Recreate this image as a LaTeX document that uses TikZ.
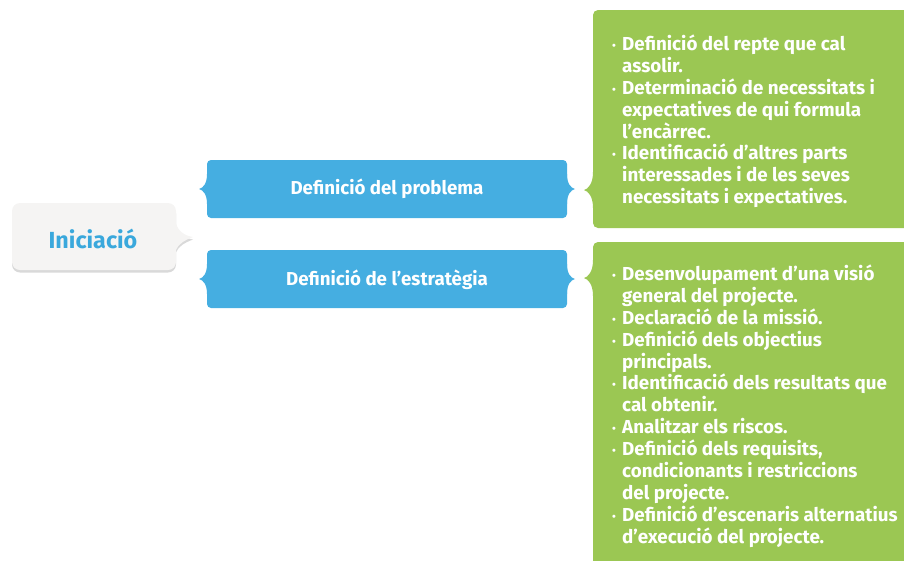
\documentclass[tikz,border=0pt]{standalone}
\usepackage{fontspec}
\setmainfont{Fira Sans}
\usetikzlibrary{shadows}
\definecolor{bblue}{HTML}{45AEE1}
\definecolor{ggreen}{HTML}{9BC753}
\definecolor{gfill}{HTML}{F5F4F3}
\definecolor{tblue}{HTML}{3AA8DC}
\newcommand{\bul}{\makebox[10pt][l]{\raisebox{1pt}{\fontsize{11}{11}\selectfont\textbullet}}}
\newcommand{\ind}{\hspace*{10pt}}
\tikzset{
  bluebox/.style={fill=bblue, draw=none},
  greenbox/.style={fill=ggreen, draw=none},
  bluetext/.style={text=white, font=\bfseries\fontsize{18.7}{22}\selectfont, inner sep=0pt},
  greentext/.style={text=white, font=\bfseries\fontsize{18.8}{21.9}\selectfont, inner sep=0pt, align=left, anchor=north west},
}
\begin{document}
\begin{tikzpicture}[x=1pt,y=-1pt]
\useasboundingbox (0,0) rectangle (904,560);
% Iniciacio box
\begin{scope}
\path[fill=gfill, drop shadow={shadow xshift=0pt, shadow yshift=-2.5pt, opacity=0.25, fill=black!60}]
  (12,211) arc[start angle=180, end angle=270, radius=8] -- (168,203)
  arc[start angle=-90, end angle=0, radius=8]
  -- (176,223) .. controls (178,232) and (186,236) .. (193,237)
  .. controls (185,240) and (178,244) .. (176,250)
  -- (176,262) arc[start angle=0, end angle=90, radius=8] -- (20,270)
  arc[start angle=90, end angle=180, radius=8] -- cycle;
\end{scope}
\node[text=tblue, font=\bfseries\fontsize{23.3}{26}\selectfont, inner sep=0pt] (ini) at (93,239) {Iniciació};
% blue boxes
\foreach \t/\b/\n in {160/218/p1,250/308/p2}{
  \fill[bluebox, rounded corners=4pt] (207,\t) rectangle (567,\b);
  \pgfmathsetmacro{\m}{(\t+\b)/2}
  \fill[bluebox] (207,\m-15) .. controls (207,\m-5) and (203,\m-1) .. (199,\m)
     .. controls (203,\m+1) and (207,\m+5) .. (207,\m+15) -- cycle;
  \fill[bluebox] (567,\m-15) .. controls (567,\m-5) and (571,\m-1) .. (575,\m)
     .. controls (571,\m+1) and (567,\m+5) .. (567,\m+15) -- cycle;
}
\node[bluetext] (b1) at (387,189) {Definició del problema};
\node[bluetext] (b2) at (387,280) {Definició de l’estratègia};
% green boxes
\fill[greenbox, rounded corners=5pt] (593,10) rectangle (915,228);
\fill[greenbox] (593,172) .. controls (593,184) and (588,189) .. (584,190)
   .. controls (588,191) and (593,196) .. (593,208) -- cycle;
\fill[greenbox, rounded corners=5pt] (593,242) rectangle (915,575);
\fill[greenbox] (593,260) .. controls (593,272) and (588,277) .. (584,278)
   .. controls (588,279) and (593,284) .. (593,296) -- cycle;
\node[greentext] (g1) at (612,34.5) {%
\bul Definició del repte que cal\\
\ind assolir.\\
\bul Determinació de necessitats i\\
\ind expectatives de qui formula\\
\ind l’encàrrec.\\
\bul Identificació d’altres parts\\
\ind interessades i de les seves\\
\ind necessitats i expectatives.};
\node[greentext] (g2) at (612,264.5) {%
\bul Desenvolupament d’una visió\\
\ind general del projecte.\\
\bul Declaració de la missió.\\
\bul Definició dels objectius\\
\ind principals.\\
\bul Identificació dels resultats que\\
\ind cal obtenir.\\
\bul Analitzar els riscos.\\
\bul Definició dels requisits,\\
\ind condicionants i restriccions\\
\ind del projecte.\\
\bul Definició d’escenaris alternatius\\
\ind d’execució del projecte.};
\end{tikzpicture}
\end{document}
